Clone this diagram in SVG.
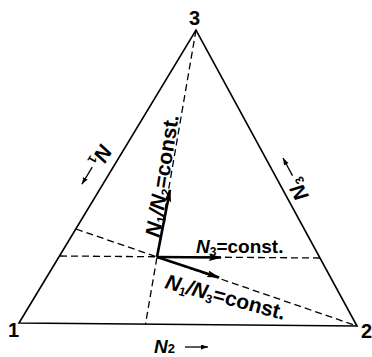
<svg xmlns="http://www.w3.org/2000/svg" width="372" height="357" viewBox="0 0 372 357">
<style>
.edge{fill:none;stroke:#000;stroke-width:1.6;stroke-linejoin:miter}
.dash{fill:none;stroke:#000;stroke-width:1.3;stroke-dasharray:7 4}
.vec{fill:none;stroke:#000;stroke-width:2.6}
.small{fill:none;stroke:#000;stroke-width:1.3}
.lbl{font-family:"Liberation Sans",Arial,sans-serif;font-weight:bold;font-size:19px;fill:#000}
.big{font-size:21px}
.it{font-style:italic}
.num{font-family:"Liberation Sans",Arial,sans-serif;font-weight:bold;font-size:20px;fill:#000}
</style>
<defs>
<marker id="ah" markerUnits="userSpaceOnUse" markerWidth="13" markerHeight="8" refX="12" refY="3.5" orient="auto">
<path d="M0,0 L13,3.5 L0,7 L2,3.5 z" fill="#000"/>
</marker>
<marker id="sh" markerUnits="userSpaceOnUse" markerWidth="8" markerHeight="6" refX="7" refY="2.5" orient="auto">
<path d="M0,0 L7,2.5 L0,5 z" fill="#000"/>
</marker>
</defs>
<rect width="372" height="357" fill="#fff"/>
<g id="triangle">
<polygon class="edge" points="19,323 196,30 357,326"/>
</g>
<g id="connectors">
<line class="dash" x1="196" y1="30" x2="145.5" y2="324"/>
<line class="dash" x1="60" y1="256" x2="320" y2="258"/>
<line class="dash" x1="76" y1="229" x2="357" y2="326"/>
<line class="vec" x1="157" y1="257" x2="170" y2="190" marker-end="url(#ah)"/>
<line class="vec" x1="157" y1="257" x2="221" y2="257.5" marker-end="url(#ah)"/>
<line class="vec" x1="157" y1="257" x2="219" y2="277.5" marker-end="url(#ah)"/>
</g>
<g id="v1"><text class="num" x="8" y="337">1</text></g>
<g id="v2"><text class="num" x="361" y="338">2</text></g>
<g id="v3"><text class="num" x="189" y="25">3</text></g>
<g id="lbl-n2">
<text class="lbl" x="154" y="353"><tspan class="it">N</tspan><tspan font-size="13" dy="0">2</tspan></text>
<line class="small" x1="185" y1="347" x2="208" y2="347" marker-end="url(#sh)"/>
</g>
<g id="lbl-n1" transform="translate(100.8,143.1) rotate(121)">
<text class="lbl big" x="0" y="0"><tspan class="it">N</tspan><tspan font-size="12" dy="3">1</tspan></text>
<line class="small" x1="25" y1="-5" x2="45" y2="-5" marker-end="url(#sh)"/>
</g>
<g id="lbl-n3" transform="translate(309.3,196.1) rotate(-118.5)">
<text class="lbl big" x="0" y="0"><tspan class="it">N</tspan><tspan font-size="12" dy="3">3</tspan></text>
<line class="small" x1="26" y1="-5" x2="46" y2="-5" marker-end="url(#sh)"/>
</g>
<g id="lbl-n1n2" transform="translate(159.5,238) rotate(-81)">
<text class="lbl big" x="0" y="0"><tspan class="it">N</tspan><tspan font-size="12" dy="3">1</tspan><tspan class="it" dy="-3">/N</tspan><tspan font-size="12" dy="3">2</tspan><tspan dy="-3">=const.</tspan></text>
</g>
<g id="lbl-n3const">
<text class="lbl" x="196" y="253"><tspan class="it">N</tspan><tspan font-size="12" dy="3">3</tspan><tspan dy="-3">=const.</tspan></text>
</g>
<g id="lbl-n1n3" transform="translate(164,288) rotate(15)">
<text class="lbl big" x="0" y="0"><tspan class="it">N</tspan><tspan font-size="12" dy="3">1</tspan><tspan class="it" dy="-3">/N</tspan><tspan font-size="12" dy="3">3</tspan><tspan dy="-3">=const.</tspan></text>
</g>
</svg>
